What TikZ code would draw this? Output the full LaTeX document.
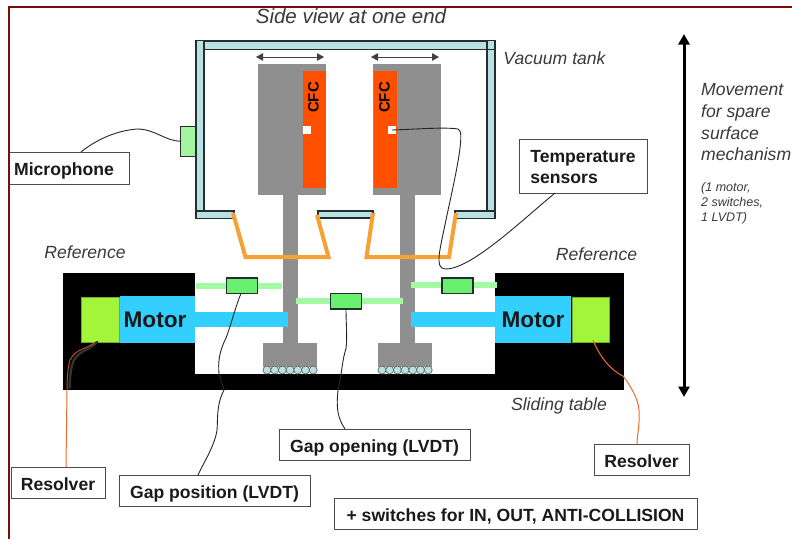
\documentclass[tikz,border=0pt]{standalone}
\usepackage{fontspec}
\setmainfont{Liberation Sans}
\usetikzlibrary{arrows.meta}
\definecolor{frameRed}{HTML}{7F0A0A}
\definecolor{tankBlue}{HTML}{B9E1E1}
\definecolor{tankLine}{HTML}{222E30}
\definecolor{blockGrey}{HTML}{8F8F8F}
\definecolor{cfcOrange}{HTML}{FF5000}
\definecolor{bellowOrange}{HTML}{F7A033}
\definecolor{motorBlue}{HTML}{33CFFF}
\definecolor{resolverGreen}{HTML}{A2F53B}
\definecolor{rodGreen}{HTML}{A4FAA4}
\definecolor{lvdtGreen}{HTML}{68F06E}
\definecolor{micGreen}{HTML}{A4F5A0}
\definecolor{wireRed}{HTML}{F56A2A}
\definecolor{labelInk}{HTML}{1A1A1A}
\definecolor{noteInk}{HTML}{3A3A3A}
% \pxbox[style]{name}{x1}{y1}{x2}{y2}{text}
\newcommand{\pxbox}[7][]{%
  \node[pxrect,#1,minimum width={(#5-#3)*1pt},minimum height={(#6-#4)*1pt}] (#2)
    at ({(#3+#5)/2},{(#4+#6)/2}) {#7};}
\newcommand{\lowertext}[1]{\raisebox{-7.5pt}[0pt][0pt]{#1}}
\tikzset{
  pxrect/.style={rectangle,inner sep=0pt,outer sep=0pt},
  tank/.style={fill=tankBlue,draw=tankLine,line width=1.2pt},
  grey/.style={fill=blockGrey},
  cfc/.style={fill=cfcOrange},
  sensorpad/.style={fill=white},
  tablebody/.style={fill=black},
  motorbody/.style={fill=motorBlue,font=\fontsize{22.6}{26}\selectfont\bfseries,text=black!90},
  resolverbody/.style={fill=resolverGreen,draw=resolverGreen!70!black,line width=.6pt},
  rod/.style={fill=rodGreen},
  lvdt/.style={fill=lvdtGreen,draw=tankLine,line width=1.2pt},
  callout/.style={fill=white,draw=black!70,line width=1pt,font=\fontsize{17.6}{21}\selectfont\bfseries,text=labelInk,align=left},
  note/.style={inner sep=0pt,font=\fontsize{17.6}{21.7}\selectfont\itshape,text=noteInk,align=left},
  smallnote/.style={inner sep=0pt,font=\fontsize{12.5}{15}\selectfont\itshape,text=noteInk,align=left},
  cfctext/.style={inner sep=0pt,rotate=90,font=\fontsize{15}{18}\selectfont\bfseries,text=black},
  roller/.style={circle,minimum size=8pt,inner sep=0pt,fill=tankBlue,draw=black!60,line width=.7pt},
  bellow/.style={draw=bellowOrange,line width=4pt,line join=miter},
  wire/.style={draw=black!85,line width=.9pt},
  redwire/.style={draw=wireRed,line width=1pt},
  travel/.style={{Triangle[length=7pt,width=7.5pt]}-{Triangle[length=7pt,width=7.5pt]},draw=black!75,line width=.9pt},
  bigtravel/.style={{Triangle[length=10.5pt,width=11pt]}-{Triangle[length=10.5pt,width=11pt]},draw=black,line width=3pt},
}
\begin{document}
\begin{tikzpicture}[x=1pt,y=-1pt]
\useasboundingbox (0,0) rectangle (792,539);
\fill[white] (0,0) rectangle (792,539);
% frame
\draw[frameRed,line width=2pt] (792,7) -- (9,7) -- (9,539);

% sliding table
\pxbox[tablebody]{tableL}{63}{273}{195}{390}{}
\pxbox[tablebody]{tableR}{495}{273}{624}{390}{}
\pxbox[tablebody]{tableM}{194}{374}{496}{390}{}

% columns and carriages
\pxbox[grey]{colL}{283}{195}{298}{344}{}
\pxbox[grey]{colR}{400}{195}{415}{344}{}
\pxbox[grey]{baseL}{263}{343}{317}{367}{}
\pxbox[grey]{baseR}{378}{343}{432}{367}{}
\foreach \i in {0,...,6}{
  \node[roller] (rollL\i) at ({267+7.7*\i},370) {};
  \node[roller] (rollR\i) at ({382+7.7*\i},370) {};
}

% jaws
\pxbox[grey]{jawL}{257.5}{64}{326}{195}{}
\pxbox[grey]{jawR}{372.7}{64}{441}{195}{}
\pxbox[cfc]{cfcL}{303}{71}{326}{188}{}
\pxbox[cfc]{cfcR}{373.5}{71}{397}{188}{}
\pxbox[sensorpad]{padL}{303}{126}{311}{134}{}
\pxbox[sensorpad]{padR}{388}{126}{396}{134}{}
\node[cfctext] (cfcTextL) at (313.5,97.5) {CFC};
\node[cfctext] (cfcTextR) at (384.5,97.5) {CFC};
\coordinate (arrLa) at (256,57); \coordinate (arrLb) at (324,57);
\coordinate (arrRa) at (371,57); \coordinate (arrRb) at (439,57);
\draw[travel] (arrLa) -- (arrLb);
\draw[travel] (arrRa) -- (arrRb);

% vacuum tank
\pxbox[tank]{tankLeft}{196}{40.5}{204}{218.5}{}
\pxbox[tank]{tankRight}{487}{40.5}{495}{218.5}{}
\pxbox[tank]{tankTop}{204}{41}{487}{49.5}{}
\pxbox[tank]{flangeL}{196}{211}{234}{218.5}{}
\pxbox[tank]{flangeM}{318}{211}{373}{218}{}
\pxbox[tank]{flangeR}{455}{211}{495}{218.5}{}
\pxbox[tank]{tankCap}{487}{40.5}{495}{49.5}{}
\draw[tankLine,line width=1.8pt] (tankTop.south west) -- (tankTop.south east);

% bellows
\coordinate (bLa) at (233,213); \coordinate (bLb) at (245.5,257);
\coordinate (bLc) at (328.5,257); \coordinate (bLd) at (317,215);
\coordinate (bRa) at (373,213); \coordinate (bRb) at (366.5,257);
\coordinate (bRc) at (449,257); \coordinate (bRd) at (456,213);
\draw[bellow] (bLa) -- (bLb) -- (bLc) -- (bLd);
\draw[bellow] (bRa) -- (bRb) -- (bRc) -- (bRd);

% motors
\pxbox[motorbody]{motorL}{120}{296}{195}{343}{\hspace*{-5pt}Motor}
\pxbox[motorbody]{motorR}{495}{296}{571}{343}{Motor}
\pxbox[fill=motorBlue]{shaftL}{195}{312}{288}{327}{}
\pxbox[fill=motorBlue]{shaftR}{411}{312}{495}{327}{}
\pxbox[resolverbody]{resL}{81.5}{297}{119}{342}{}
\pxbox[resolverbody]{resR}{572}{297}{609}{342}{}

% LVDTs
\pxbox[rod]{rodL}{196}{282.5}{282}{288.5}{}
\pxbox[rod]{rodM}{296}{298}{403}{304}{}
\pxbox[rod]{rodR}{411}{282}{497}{288}{}
\pxbox[lvdt]{lvdtL}{226.5}{278}{257.5}{293.5}{}
\pxbox[lvdt]{lvdtM}{330.5}{293.5}{361.5}{309}{}
\pxbox[lvdt]{lvdtR}{442}{278}{473}{293.5}{}

% microphone
\pxbox[fill=micGreen,draw=tankLine,line width=1pt]{mic}{180.5}{126}{195.5}{156.5}{}

% text notes
\node[note,font=\fontsize{20.5}{24}\selectfont\itshape] (title) at (351,16) {Side view at one end};
\node[note] (vacuum) at (554.5,58.5) {Vacuum tank};
\node[note,anchor=north west] (movement) at (701,83.5) {Movement\\for spare\\surface\\mechanism};
\node[smallnote,anchor=north west] (movenote) at (701,182) {(1 motor,\\2 switches,\\1 LVDT)};
\node[note] (refL) at (85,252) {Reference};
\node[note] (refR) at (596.5,254) {Reference};
\node[note] (sliding) at (559,406) {Sliding table};

% callouts
\pxbox[callout]{micLabel}{9}{152}{129}{184}{\hspace*{-10pt}\lowertext{Microphone}}
\pxbox[callout]{tempLabel}{519}{139}{647}{193}{\lowertext{\begin{tabular}{@{}l@{}}Temperature\\sensors\end{tabular}}}
\pxbox[callout]{resLabelL}{11}{467}{105}{498}{\lowertext{Resolver}}
\pxbox[callout]{resLabelR}{594}{444}{689}{475}{\lowertext{Resolver}}
\pxbox[callout]{gapPos}{119}{475}{310}{506}{\lowertext{Gap position (LVDT)}}
\pxbox[callout]{gapOpen}{279}{429}{470}{460}{\lowertext{Gap opening (LVDT)}}
\pxbox[callout]{switches}{334}{498}{697}{529}{\lowertext{+ switches for IN, OUT, ANTI-COLLISION}}
\draw[frameRed,line width=2pt] (9,140) -- (9,200);

% connectors
\draw[wire] (micLabel.north -| 81,152) .. controls (92,143) and (112,131) .. (137,129)
   .. controls (155,129) and (165,141) .. (mic.west);
\draw[wire] (padR.center) .. controls (420,129) and (445,127) .. (458,129)
   .. controls (465,130) and (458,165) .. (447,215)
   .. controls (440,250) and (434,268) .. (445,269)
   .. controls (470,270) and (520,222) .. (555,193);
\draw[wire] (lvdtL.south) ++(-1,0) .. controls (236,305) and (231,325) .. (226,338)
   .. controls (219,352) and (218,362) .. (219,374)
   -- (224,390) .. controls (216,405) and (218,420) .. (217,430)
   .. controls (215,445) and (204,462) .. (198,475);
\draw[wire] (lvdtM.south) .. controls (346,325) and (348,345) .. (345,352)
   .. controls (342,362) and (341,380) .. (338,390)
   .. controls (336,410) and (338,418) .. (345,429);
\draw[draw=black!80,line width=2.4pt,line cap=round] (97,342) .. controls (90,350) and (80,350) .. (74,360) .. controls (71,366) and (70,375) .. (69.5,388);
\draw[redwire,draw=wireRed!75!black] (95,342) .. controls (88,349) and (76,348) .. (70,360)
   .. controls (68,365) and (67,380) .. (67,390);
\draw[redwire] (67,390) -- (resLabelL.north -| 66,467);
\draw[redwire] (593,340) .. controls (600,358) and (612,371) .. (623,376)
   .. controls (630,385) and (638,398) .. (639,410)
   .. controls (640,425) and (637,435) .. (resLabelR.north -| 637,444);

% overall travel
\coordinate (bigTop) at (684,34); \coordinate (bigBottom) at (684,397);
\draw[bigtravel] (bigTop) -- (bigBottom);
\end{tikzpicture}
\end{document}
